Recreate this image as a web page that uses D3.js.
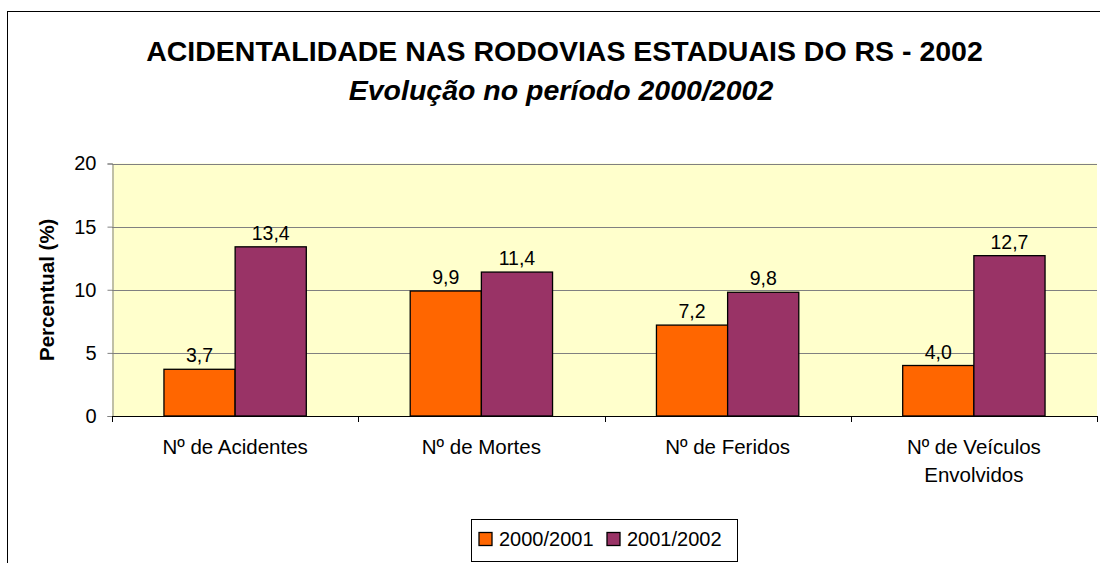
<!DOCTYPE html>
<html>
<head>
<meta charset="utf-8">
<script src="https://cdn.jsdelivr.net/npm/d3@7"></script>
<style>
  body { margin: 0; background: #fff; }
  svg { display: block; font-family: "Liberation Sans", Arial, sans-serif; }
</style>
</head>
<body>
<div id="chart"></div>
<script>
// data
const categories = [["Nº de Acidentes"], ["Nº de Mortes"], ["Nº de Feridos"], ["Nº de Veículos", "Envolvidos"]];
const seriesNames = ["2000/2001", "2001/2002"];
const values2001 = [3.7, 9.9, 7.2, 4.0];
const values2002 = [13.4, 11.4, 9.8, 12.7];
const yTicks = [0, 5, 10, 15, 20];
const colors = ["#FF6600", "#993366"];

const width = 1100, height = 563;
const plot = {left: 112, right: 1097, top: 163.5, bottom: 416};

const svg = d3.select("#chart").append("svg")
    .attr("width", width)
    .attr("height", height);

// outer chart border (goes off the right and bottom edges)
svg.append("rect")
    .attr("x", 7.5).attr("y", 11.5)
    .attr("width", 1200).attr("height", 700)
    .attr("fill", "#fff")
    .attr("stroke", "#000").attr("stroke-width", 1);

// titles
svg.append("text")
    .attr("x", 564.5).attr("y", 61)
    .attr("text-anchor", "middle")
    .attr("font-size", 28.5).attr("font-weight", "bold")
    .text("ACIDENTALIDADE NAS RODOVIAS ESTADUAIS DO RS - 2002");
svg.append("text")
    .attr("x", 561).attr("y", 100)
    .attr("text-anchor", "middle")
    .attr("font-size", 28.5).attr("font-weight", "bold").attr("font-style", "italic")
    .text("Evolução no período 2000/2002");

const x = d3.scaleBand()
    .domain(d3.range(categories.length))
    .range([plot.left, plot.right]);
const xInner = d3.scaleBand()
    .domain(d3.range(seriesNames.length))
    .range([0, x.bandwidth()])
    .paddingInner(0)
    .paddingOuter(0.73);
const y = d3.scaleLinear().domain([0, 20]).range([plot.bottom, plot.top]);

// plot background
svg.append("rect")
    .attr("x", plot.left).attr("y", plot.top)
    .attr("width", plot.right - plot.left).attr("height", plot.bottom - plot.top)
    .attr("fill", "#FFFFCC");

// gridlines
svg.append("g")
    .selectAll("line")
    .data(yTicks.filter(d => d > 0))
    .join("line")
    .attr("x1", plot.left).attr("x2", plot.right)
    .attr("y1", d => Math.round(y(d)) + 0.5).attr("y2", d => Math.round(y(d)) + 0.5)
    .attr("stroke", "#808080");

// y axis
const yAxis = svg.append("g")
    .attr("transform", `translate(${plot.left + 0.5},0)`)
    .call(d3.axisLeft(y).tickValues(yTicks).tickSize(5).tickPadding(11));
yAxis.select(".domain").attr("stroke", "#808080");
yAxis.selectAll(".tick line").attr("stroke", "#808080");
yAxis.selectAll(".tick text").attr("font-size", 20).attr("fill", "#000")
    .attr("font-family", "Liberation Sans, Arial, sans-serif");

svg.append("text")
    .attr("transform", `translate(53.5,${(plot.top + plot.bottom) / 2}) rotate(-90)`)
    .attr("text-anchor", "middle")
    .attr("font-size", 20.5).attr("font-weight", "bold")
    .text("Percentual (%)");

// bars
const data = categories.map((c, i) => [values2001[i], values2002[i]]);
const groups = svg.append("g")
    .selectAll("g")
    .data(data)
    .join("g")
    .attr("transform", (d, i) => `translate(${x(i)},0)`);

groups.selectAll("rect")
    .data(d => d)
    .join("rect")
    .attr("x", (d, j) => xInner(j))
    .attr("y", d => y(d))
    .attr("width", xInner.bandwidth())
    .attr("height", d => plot.bottom - y(d))
    .attr("fill", (d, j) => colors[j])
    .attr("stroke", "#000").attr("stroke-width", 1.3);

groups.selectAll("text")
    .data(d => d)
    .join("text")
    .attr("x", (d, j) => xInner(j) + xInner.bandwidth() / 2)
    .attr("y", d => y(d) - 7)
    .attr("text-anchor", "middle")
    .attr("font-size", 19.5)
    .text(d => d.toFixed(1).replace(".", ","));

// x axis
svg.append("line")
    .attr("x1", plot.left).attr("x2", plot.right)
    .attr("y1", plot.bottom + 0.5).attr("y2", plot.bottom + 0.5)
    .attr("stroke", "#000");
svg.append("g")
    .selectAll("line")
    .data(d3.range(categories.length + 1))
    .join("line")
    .attr("x1", i => Math.round(plot.left + i * x.bandwidth()) + 0.5)
    .attr("x2", i => Math.round(plot.left + i * x.bandwidth()) + 0.5)
    .attr("y1", plot.bottom).attr("y2", plot.bottom + 6)
    .attr("stroke", "#000");

svg.append("g")
    .selectAll("text")
    .data(categories)
    .join("text")
    .attr("x", (d, i) => x(i) + x.bandwidth() / 2)
    .attr("y", 454)
    .attr("text-anchor", "middle")
    .attr("font-size", 20.5)
    .selectAll("tspan")
    .data(d => d)
    .join("tspan")
    .attr("x", function() { return this.parentNode.getAttribute("x"); })
    .attr("dy", (d, k) => k === 0 ? 0 : 28)
    .text(d => d);

// legend
const legend = svg.append("g");
legend.append("rect")
    .attr("x", 471.5).attr("y", 519.5)
    .attr("width", 266).attr("height", 42)
    .attr("fill", "#fff").attr("stroke", "#000");
const legendX = [479, 607];
seriesNames.forEach((name, j) => {
    legend.append("rect")
        .attr("x", legendX[j]).attr("y", 532.5)
        .attr("width", 13).attr("height", 13)
        .attr("fill", colors[j]).attr("stroke", "#000").attr("stroke-width", 1.3);
    legend.append("text")
        .attr("x", legendX[j] + 20).attr("y", 546)
        .attr("font-size", 20)
        .text(name);
});
</script>
</body>
</html>
